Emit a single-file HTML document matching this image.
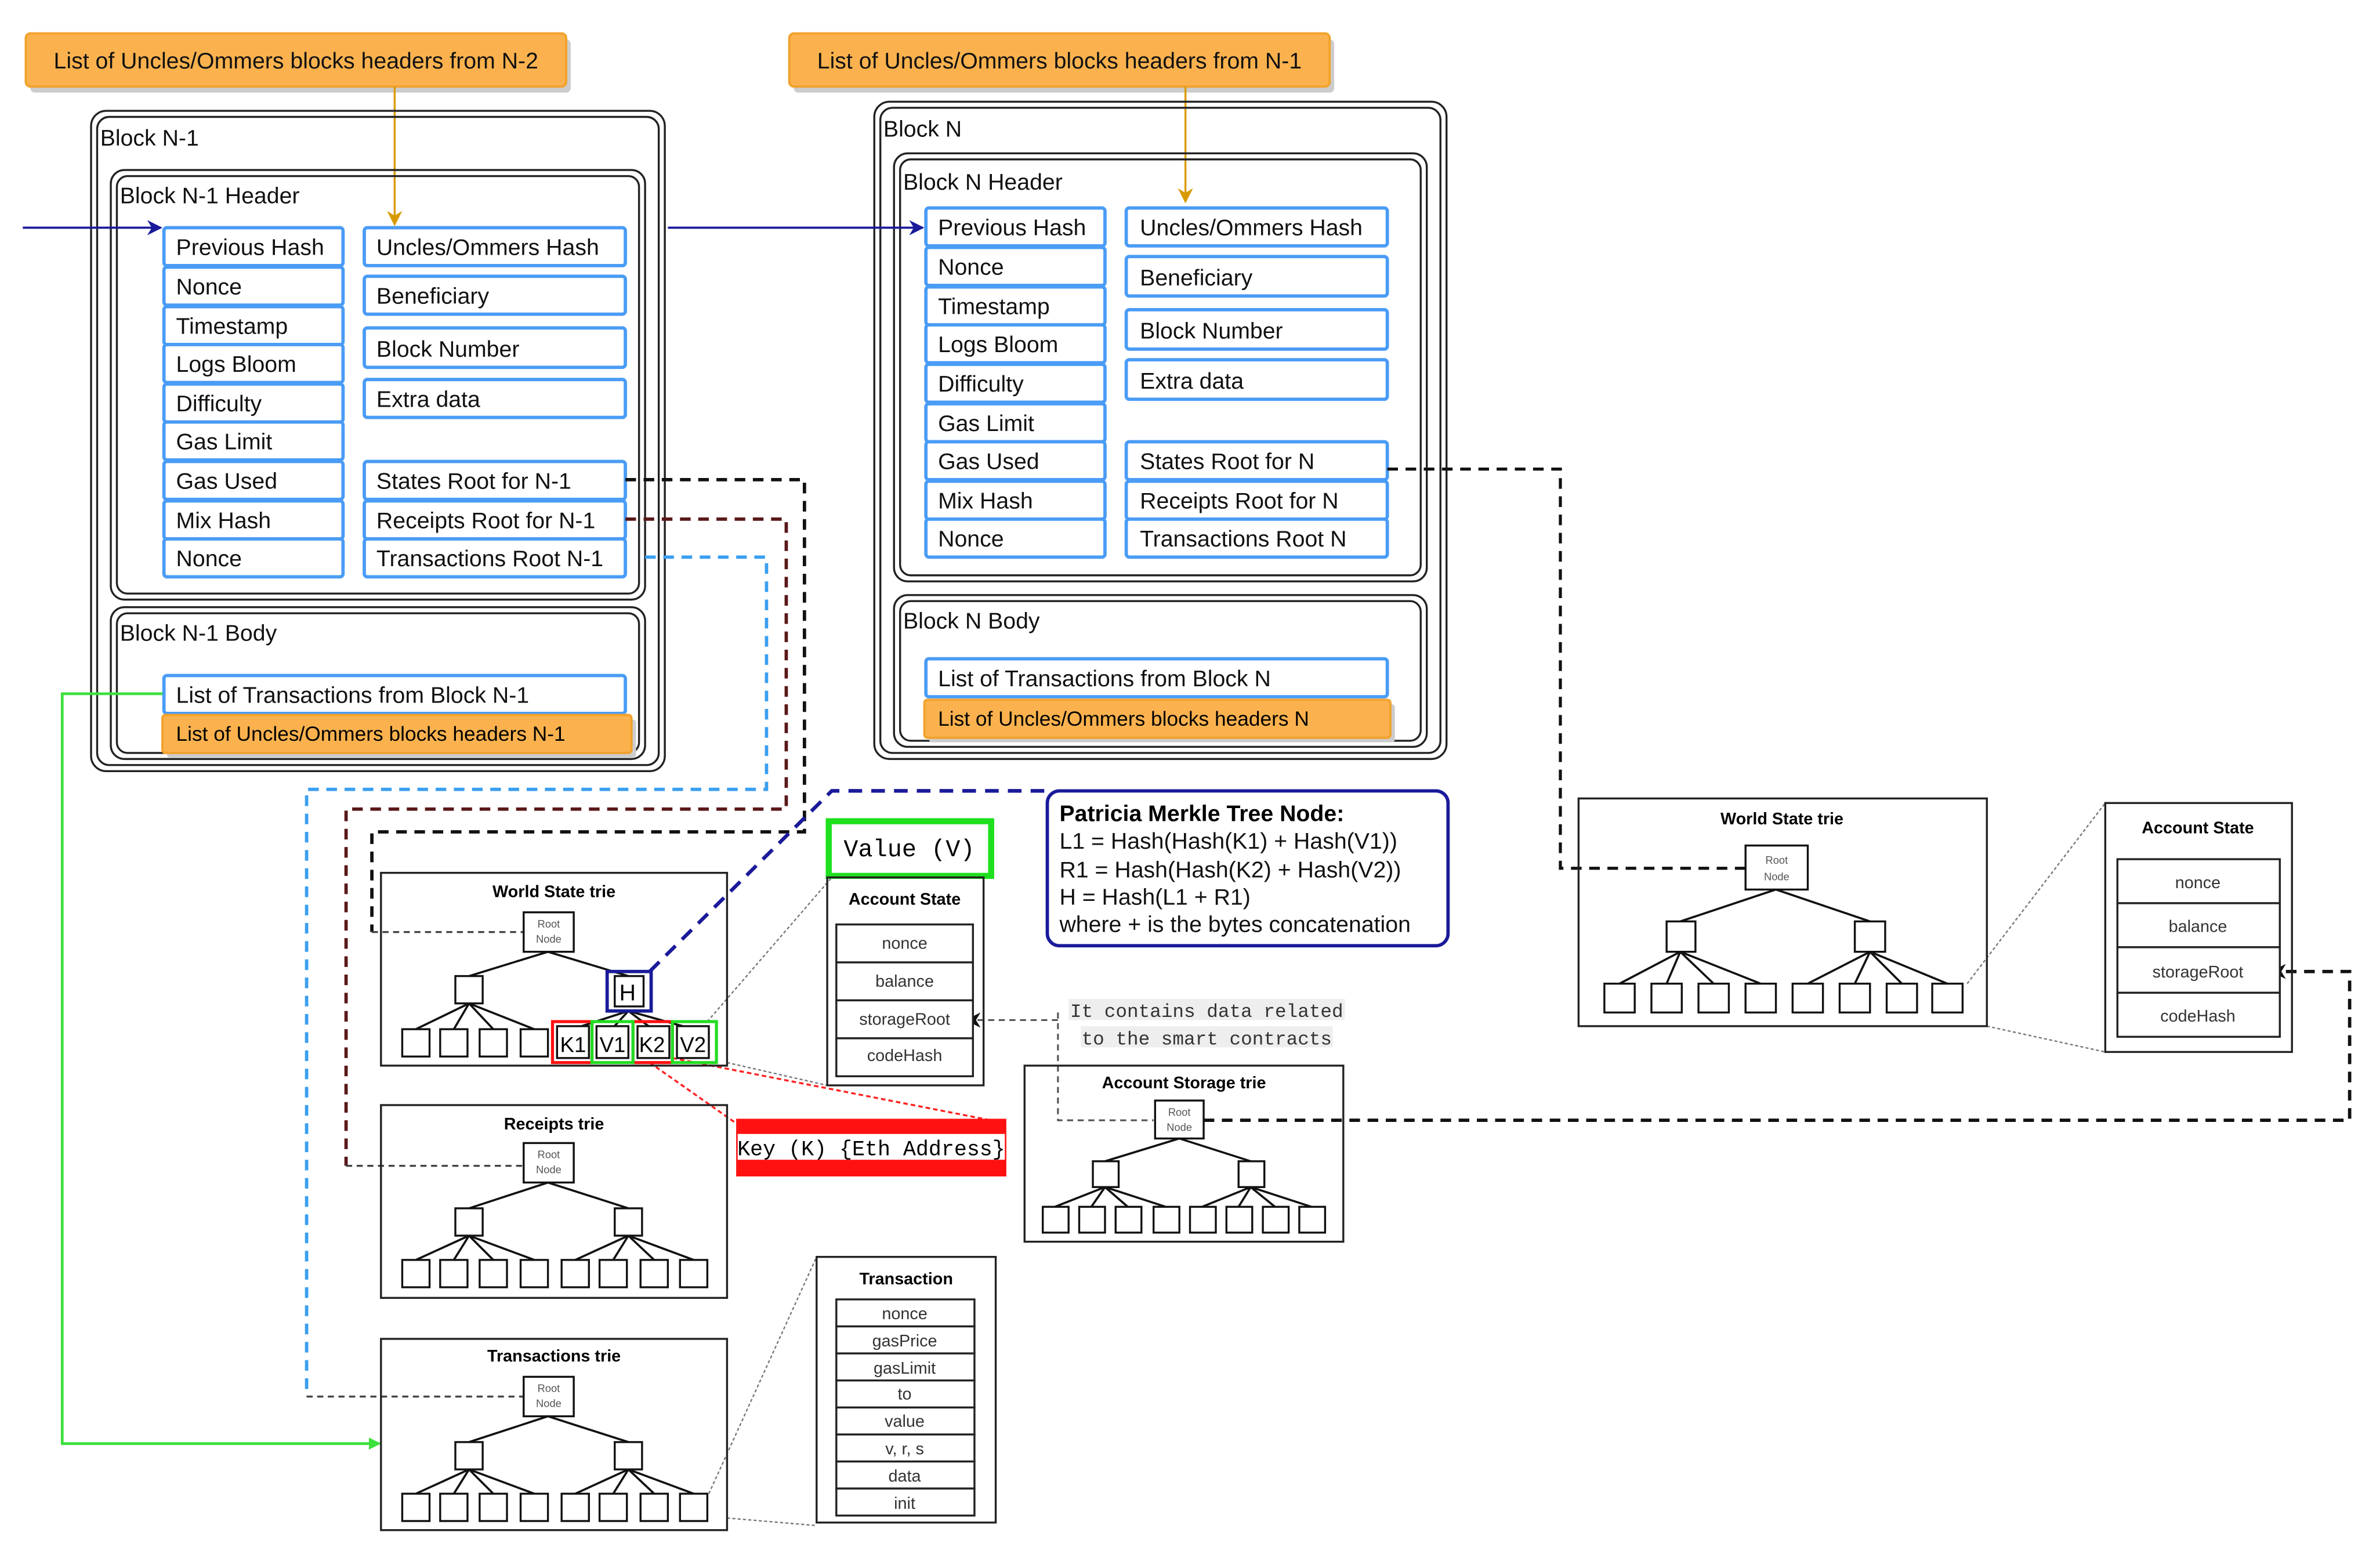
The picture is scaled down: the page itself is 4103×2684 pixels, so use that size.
<!DOCTYPE html>
<html><head><meta charset="utf-8"><style>
html,body{margin:0;padding:0;background:#fff;}
svg{display:block;}
text{font-family:"Liberation Sans",sans-serif;}
.f{fill:#fff;stroke:#4a9cf5;stroke-width:2.2;}
.t{font-size:15px;fill:#111;}
.o{fill:#fbb24e;stroke:#f2a22c;stroke-width:1.5;}
.b{fill:none;stroke:#222;stroke-width:1.3;}
.n{fill:#fff;stroke:#111;stroke-width:1.3;}
.l{stroke:#111;stroke-width:1.4;}
.tt{font-size:11px;font-weight:bold;text-anchor:middle;}
.rn{font-size:7px;fill:#555;text-anchor:middle;}
.af{fill:#fff;stroke:#222;stroke-width:1.3;}
.at{font-size:11px;fill:#333;text-anchor:middle;}
.m{font-family:"Liberation Mono",monospace;}
</style></head><body>
<svg width="4103" height="2684" viewBox="0 0 1568 1025.7" preserveAspectRatio="none" xmlns="http://www.w3.org/2000/svg">
<defs>
<marker id="ab" markerWidth="10" markerHeight="10" refX="9" refY="5" orient="auto" markerUnits="userSpaceOnUse"><path d="M0,0 L10,5 L0,10 L3,5z" fill="#1a1a9a"/></marker>
<marker id="ao" markerWidth="10" markerHeight="10" refX="9" refY="5" orient="auto" markerUnits="userSpaceOnUse"><path d="M0,0 L10,5 L0,10 L3,5z" fill="#d99a00"/></marker>
<marker id="ak" markerWidth="10" markerHeight="10" refX="9" refY="5" orient="auto" markerUnits="userSpaceOnUse"><path d="M0,0 L10,5 L0,10 L3,5z" fill="#111"/></marker>
<marker id="ag" markerWidth="8" markerHeight="8" refX="7" refY="4" orient="auto" markerUnits="userSpaceOnUse"><path d="M0,0 L8,4 L0,8z" fill="#3de03d"/></marker>
</defs>

<rect x="20" y="26" width="356" height="35" rx="3" fill="#ccc"/>
<rect x="17" y="22" width="356" height="35" rx="3" class="o"/>
<text x="195" y="45" class="t" text-anchor="middle">List of Uncles/Ommers blocks headers from N-2</text>
<rect x="523" y="26" width="356" height="35" rx="3" fill="#ccc"/>
<rect x="520" y="22" width="356" height="35" rx="3" class="o"/>
<text x="698" y="45" class="t" text-anchor="middle">List of Uncles/Ommers blocks headers from N-1</text>
<line x1="260" y1="57" x2="260" y2="148" stroke="#d99a00" stroke-width="1.3" marker-end="url(#ao)"/>
<line x1="781" y1="57" x2="781" y2="133" stroke="#d99a00" stroke-width="1.3" marker-end="url(#ao)"/>

<rect x="60" y="73" width="378" height="435" rx="10" class="b" stroke-width="1.6"/>
<rect x="64" y="77" width="370" height="427" rx="8" class="b" stroke-width="1.6"/>
<text x="66" y="96" class="t">Block N-1</text>
<rect x="73" y="112" width="352" height="283" rx="9" class="b" stroke-width="1.6"/>
<rect x="77" y="116" width="344" height="275" rx="7" class="b" stroke-width="1.6"/>
<text x="79" y="134" class="t">Block N-1 Header</text>
<g>
<rect x="108" y="150" width="118" height="25" rx="2" class="f"/><text x="116" y="168" class="t">Previous Hash</text>
<rect x="108" y="176" width="118" height="25" rx="2" class="f"/><text x="116" y="194" class="t">Nonce</text>
<rect x="108" y="202" width="118" height="25" rx="2" class="f"/><text x="116" y="220" class="t">Timestamp</text>
<rect x="108" y="227" width="118" height="25" rx="2" class="f"/><text x="116" y="245" class="t">Logs Bloom</text>
<rect x="108" y="253" width="118" height="25" rx="2" class="f"/><text x="116" y="271" class="t">Difficulty</text>
<rect x="108" y="278" width="118" height="25" rx="2" class="f"/><text x="116" y="296" class="t">Gas Limit</text>
<rect x="108" y="304" width="118" height="25" rx="2" class="f"/><text x="116" y="322" class="t">Gas Used</text>
<rect x="108" y="330" width="118" height="25" rx="2" class="f"/><text x="116" y="348" class="t">Mix Hash</text>
<rect x="108" y="355" width="118" height="25" rx="2" class="f"/><text x="116" y="373" class="t">Nonce</text>
<rect x="240" y="150" width="172" height="25" rx="2" class="f"/><text x="248" y="168" class="t">Uncles/Ommers Hash</text>
<rect x="240" y="182" width="172" height="25" rx="2" class="f"/><text x="248" y="200" class="t">Beneficiary</text>
<rect x="240" y="216" width="172" height="26" rx="2" class="f"/><text x="248" y="235" class="t">Block Number</text>
<rect x="240" y="250" width="172" height="25" rx="2" class="f"/><text x="248" y="268" class="t">Extra data</text>
<rect x="240" y="304" width="172" height="25" rx="2" class="f"/><text x="248" y="322" class="t">States Root for N-1</text>
<rect x="240" y="330" width="172" height="25" rx="2" class="f"/><text x="248" y="348" class="t">Receipts Root for N-1</text>
<rect x="240" y="355" width="172" height="25" rx="2" class="f"/><text x="248" y="373" class="t">Transactions Root N-1</text>
</g>
<rect x="73" y="400" width="352" height="100" rx="9" class="b" stroke-width="1.6"/>
<rect x="77" y="404" width="344" height="92" rx="7" class="b" stroke-width="1.6"/>
<text x="79" y="422" class="t">Block N-1 Body</text>
<rect x="108" y="445" width="304" height="25" rx="2" class="f"/><text x="116" y="463" class="t">List of Transactions from Block N-1</text>
<rect x="110" y="474" width="309" height="25" rx="2" fill="#ccc"/>
<rect x="107" y="471" width="309" height="25" rx="2" class="o"/><text x="116" y="488" font-size="13.5">List of Uncles/Ommers blocks headers N-1</text>

<rect x="576" y="67" width="377" height="433" rx="10" class="b" stroke-width="1.6"/>
<rect x="580" y="71" width="369" height="425" rx="8" class="b" stroke-width="1.6"/>
<text x="582" y="90" class="t">Block N</text>
<rect x="589" y="101" width="351" height="282" rx="9" class="b" stroke-width="1.6"/>
<rect x="593" y="105" width="343" height="274" rx="7" class="b" stroke-width="1.6"/>
<text x="595" y="125" class="t">Block N Header</text>
<g>
<rect x="610" y="137" width="118" height="25" rx="2" class="f"/><text x="618" y="155" class="t">Previous Hash</text>
<rect x="610" y="163" width="118" height="25" rx="2" class="f"/><text x="618" y="181" class="t">Nonce</text>
<rect x="610" y="189" width="118" height="25" rx="2" class="f"/><text x="618" y="207" class="t">Timestamp</text>
<rect x="610" y="214" width="118" height="25" rx="2" class="f"/><text x="618" y="232" class="t">Logs Bloom</text>
<rect x="610" y="240" width="118" height="25" rx="2" class="f"/><text x="618" y="258" class="t">Difficulty</text>
<rect x="610" y="266" width="118" height="25" rx="2" class="f"/><text x="618" y="284" class="t">Gas Limit</text>
<rect x="610" y="291" width="118" height="25" rx="2" class="f"/><text x="618" y="309" class="t">Gas Used</text>
<rect x="610" y="317" width="118" height="25" rx="2" class="f"/><text x="618" y="335" class="t">Mix Hash</text>
<rect x="610" y="342" width="118" height="25" rx="2" class="f"/><text x="618" y="360" class="t">Nonce</text>
<rect x="742" y="137" width="172" height="25" rx="2" class="f"/><text x="751" y="155" class="t">Uncles/Ommers Hash</text>
<rect x="742" y="169" width="172" height="26" rx="2" class="f"/><text x="751" y="188" class="t">Beneficiary</text>
<rect x="742" y="204" width="172" height="26" rx="2" class="f"/><text x="751" y="223" class="t">Block Number</text>
<rect x="742" y="237" width="172" height="26" rx="2" class="f"/><text x="751" y="256" class="t">Extra data</text>
<rect x="742" y="291" width="172" height="25" rx="2" class="f"/><text x="751" y="309" class="t">States Root for N</text>
<rect x="742" y="317" width="172" height="25" rx="2" class="f"/><text x="751" y="335" class="t">Receipts Root for N</text>
<rect x="742" y="342" width="172" height="25" rx="2" class="f"/><text x="751" y="360" class="t">Transactions Root  N</text>
</g>
<rect x="589" y="392" width="351" height="100" rx="9" class="b" stroke-width="1.6"/>
<rect x="593" y="396" width="343" height="92" rx="7" class="b" stroke-width="1.6"/>
<text x="595" y="414" class="t">Block N Body</text>
<rect x="610" y="434" width="304" height="25" rx="2" class="f"/><text x="618" y="452" class="t">List of Transactions from Block N</text>
<rect x="612" y="464" width="307" height="25" rx="2" fill="#ccc"/>
<rect x="609" y="461" width="307" height="25" rx="2" class="o"/><text x="618" y="478" font-size="13.5">List of Uncles/Ommers blocks headers N</text>

<line x1="15" y1="150" x2="106" y2="150" stroke="#1a1a9a" stroke-width="1.4" marker-end="url(#ab)"/>
<line x1="440" y1="150" x2="608" y2="150" stroke="#1a1a9a" stroke-width="1.4" marker-end="url(#ab)"/>

<path d="M412,316 H530 V548 H245 V614" fill="none" stroke="#111" stroke-width="2.2" stroke-dasharray="7,5"/>
<path d="M245,614 H345" fill="none" stroke="#444" stroke-width="1.3" stroke-dasharray="4,3"/>
<path d="M412,342 H518 V533 H228 V768" fill="none" stroke="#5a1818" stroke-width="2.2" stroke-dasharray="7,5"/>
<path d="M228,768 H345" fill="none" stroke="#444" stroke-width="1.3" stroke-dasharray="4,3"/>
<path d="M425,367 H505 V520 H202 V920" fill="none" stroke="#3a9ff0" stroke-width="2.2" stroke-dasharray="7,5"/>
<path d="M202,920 H345" fill="none" stroke="#444" stroke-width="1.3" stroke-dasharray="4,3"/>
<path d="M107,457 H41 V951 H250" fill="none" stroke="#3de03d" stroke-width="1.8" marker-end="url(#ag)"/>
<path d="M914,309 H1028 V572 H1150" fill="none" stroke="#111" stroke-width="2" stroke-dasharray="7,5"/>
<path d="M793,738 H1548 V640 H1497" fill="none" stroke="#111" stroke-width="2.2" stroke-dasharray="7,5" marker-end="url(#ak)"/>
<path d="M697,667 V738 H760" fill="none" stroke="#555" stroke-width="1.2" stroke-dasharray="4,3"/>
<path d="M697,672 H637" fill="none" stroke="#555" stroke-width="1.2" stroke-dasharray="4,3" marker-end="url(#ak)"/>
<path d="M428,640 L548,521 H690" fill="none" stroke="#1a1a9a" stroke-width="2.4" stroke-dasharray="9,6"/>
<g stroke="#777" stroke-width="0.9" stroke-dasharray="2,1.5" fill="none">
<path d="M466,673 L548,578"/><path d="M479,700 L545,715"/>
<path d="M1296,648 L1387,529"/><path d="M1309,676 L1387,693"/>
<path d="M467,984 L538,828"/><path d="M479,1000 L538,1005"/>
</g>
<g stroke="#f22" stroke-width="1.3" stroke-dasharray="3,2" fill="none">
<path d="M428,700 L485,740"/><path d="M443,697 L663,740"/>
</g>

<rect x="251" y="575" width="228" height="127" class="b" stroke-width="1.6"/>
<text x="365" y="591" class="tt">World State trie</text>
<rect x="345" y="601" width="33" height="26" class="n"/><text x="361.5" y="611" class="rn">Root</text><text x="361.5" y="621" class="rn">Node</text>
<g class="l"><line x1="361" y1="627" x2="309" y2="643"/><line x1="361" y1="627" x2="414" y2="643"/>
<line x1="309" y1="661" x2="274" y2="678"/><line x1="309" y1="661" x2="299" y2="678"/><line x1="309" y1="661" x2="325" y2="678"/><line x1="309" y1="661" x2="352" y2="678"/>
<line x1="414" y1="666" x2="377" y2="678"/><line x1="414" y1="666" x2="403" y2="678"/><line x1="414" y1="666" x2="430" y2="678"/><line x1="414" y1="666" x2="457" y2="678"/></g>
<rect x="300" y="643" width="18" height="18" class="n"/>
<rect x="265" y="678" width="18" height="18" class="n"/><rect x="290" y="678" width="18" height="18" class="n"/><rect x="316" y="678" width="18" height="18" class="n"/><rect x="343" y="678" width="18" height="18" class="n"/>
<rect x="367" y="676" width="21" height="21" class="n"/><rect x="393" y="676" width="21" height="21" class="n"/><rect x="420" y="676" width="21" height="21" class="n"/><rect x="446" y="676" width="21" height="21" class="n"/>
<rect x="364" y="673" width="26" height="27" fill="none" stroke="#f11" stroke-width="2"/>
<rect x="417" y="673" width="26" height="27" fill="none" stroke="#f11" stroke-width="2"/>
<rect x="390" y="673" width="27" height="27" fill="none" stroke="#2d2" stroke-width="2"/>
<rect x="443" y="673" width="29" height="27" fill="none" stroke="#2d2" stroke-width="2"/>
<text x="369" y="693" font-size="14">K1</text><text x="395" y="693" font-size="14">V1</text><text x="421" y="693" font-size="14">K2</text><text x="448" y="693" font-size="14">V2</text>
<rect x="405" y="643" width="19" height="20" class="n"/>
<rect x="400" y="640" width="29" height="26" fill="none" stroke="#1a1a9a" stroke-width="2.2"/>
<text x="408" y="659" font-size="15">H</text>

<rect x="546" y="541" width="107" height="36" fill="#fff" stroke="#1ee01e" stroke-width="4"/>
<text x="599" y="564" class="m" font-size="16" text-anchor="middle">Value (V)</text>
<rect x="485" y="737" width="178" height="38" fill="#f11"/>
<rect x="486" y="747" width="176" height="17" fill="#fff"/>
<text x="574" y="761" class="m" font-size="14" text-anchor="middle">Key (K) {Eth Address}</text>

<rect x="545" y="578" width="103" height="137" class="b"/>
<text x="596" y="596" class="tt">Account State</text>
<rect x="551" y="609" width="90" height="25" class="af"/><text x="596" y="625" class="at">nonce</text>
<rect x="551" y="634" width="90" height="25" class="af"/><text x="596" y="650" class="at">balance</text>
<rect x="551" y="659" width="90" height="25" class="af"/><text x="596" y="675" class="at">storageRoot</text>
<rect x="551" y="684" width="90" height="25" class="af"/><text x="596" y="699" class="at">codeHash</text>

<rect x="690" y="521" width="264" height="102" rx="8" fill="#fff" stroke="#1a1a9a" stroke-width="2.2"/>
<text x="698" y="541" font-size="15" font-weight="bold">Patricia Merkle Tree Node:</text>
<text x="698" y="559" class="t">L1 = Hash(Hash(K1) + Hash(V1))</text>
<text x="698" y="578" class="t">R1 = Hash(Hash(K2) + Hash(V2))</text>
<text x="698" y="596" class="t">H = Hash(L1 + R1)</text>
<text x="698" y="614" class="t">where + is the bytes concatenation</text>

<rect x="704" y="658" width="182" height="14" fill="#eee"/><rect x="712" y="676" width="166" height="14" fill="#eee"/>
<text x="795" y="670" class="m" font-size="12.5" text-anchor="middle" fill="#333">It contains data related</text>
<text x="795" y="688" class="m" font-size="12.5" text-anchor="middle" fill="#333">to the smart contracts</text>

<rect x="251" y="728" width="228" height="127" class="b" stroke-width="1.6"/>
<text x="365" y="744" class="tt">Receipts trie</text>
<rect x="345" y="753" width="33" height="26" class="n"/><text x="361.5" y="763" class="rn">Root</text><text x="361.5" y="773" class="rn">Node</text>
<g class="l"><line x1="361" y1="779" x2="309" y2="796"/><line x1="361" y1="779" x2="414" y2="796"/>
<line x1="309" y1="814" x2="274" y2="830"/><line x1="309" y1="814" x2="299" y2="830"/><line x1="309" y1="814" x2="325" y2="830"/><line x1="309" y1="814" x2="352" y2="830"/>
<line x1="414" y1="814" x2="379" y2="830"/><line x1="414" y1="814" x2="404" y2="830"/><line x1="414" y1="814" x2="431" y2="830"/><line x1="414" y1="814" x2="457" y2="830"/></g>
<rect x="300" y="796" width="18" height="18" class="n"/><rect x="405" y="796" width="18" height="18" class="n"/>
<g><rect x="265" y="830" width="18" height="18" class="n"/><rect x="290" y="830" width="18" height="18" class="n"/><rect x="316" y="830" width="18" height="18" class="n"/><rect x="343" y="830" width="18" height="18" class="n"/><rect x="370" y="830" width="18" height="18" class="n"/><rect x="395" y="830" width="18" height="18" class="n"/><rect x="422" y="830" width="18" height="18" class="n"/><rect x="448" y="830" width="18" height="18" class="n"/></g>

<rect x="251" y="882" width="228" height="126" class="b" stroke-width="1.6"/>
<text x="365" y="897" class="tt">Transactions trie</text>
<rect x="345" y="907" width="33" height="26" class="n"/><text x="361.5" y="917" class="rn">Root</text><text x="361.5" y="927" class="rn">Node</text>
<g class="l"><line x1="361" y1="933" x2="309" y2="950"/><line x1="361" y1="933" x2="414" y2="950"/>
<line x1="309" y1="968" x2="274" y2="984"/><line x1="309" y1="968" x2="299" y2="984"/><line x1="309" y1="968" x2="325" y2="984"/><line x1="309" y1="968" x2="352" y2="984"/>
<line x1="414" y1="968" x2="379" y2="984"/><line x1="414" y1="968" x2="404" y2="984"/><line x1="414" y1="968" x2="431" y2="984"/><line x1="414" y1="968" x2="457" y2="984"/></g>
<rect x="300" y="950" width="18" height="18" class="n"/><rect x="405" y="950" width="18" height="18" class="n"/>
<g><rect x="265" y="984" width="18" height="18" class="n"/><rect x="290" y="984" width="18" height="18" class="n"/><rect x="316" y="984" width="18" height="18" class="n"/><rect x="343" y="984" width="18" height="18" class="n"/><rect x="370" y="984" width="18" height="18" class="n"/><rect x="395" y="984" width="18" height="18" class="n"/><rect x="422" y="984" width="18" height="18" class="n"/><rect x="448" y="984" width="18" height="18" class="n"/></g>

<rect x="538" y="828" width="118" height="175" class="b"/>
<text x="597" y="846" class="tt">Transaction</text>
<g>
<rect x="551" y="856" width="91" height="17.8" class="af"/><text x="596" y="869" class="at">nonce</text>
<rect x="551" y="873.8" width="91" height="17.8" class="af"/><text x="596" y="887" class="at">gasPrice</text>
<rect x="551" y="891.6" width="91" height="17.8" class="af"/><text x="596" y="905" class="at">gasLimit</text>
<rect x="551" y="909.4" width="91" height="17.8" class="af"/><text x="596" y="922" class="at">to</text>
<rect x="551" y="927.2" width="91" height="17.8" class="af"/><text x="596" y="940" class="at">value</text>
<rect x="551" y="945" width="91" height="17.8" class="af"/><text x="596" y="958" class="at">v, r, s</text>
<rect x="551" y="962.8" width="91" height="17.8" class="af"/><text x="596" y="976" class="at">data</text>
<rect x="551" y="980.6" width="91" height="17.8" class="af"/><text x="596" y="994" class="at">init</text>
</g>

<rect x="675" y="702" width="210" height="116" class="b" stroke-width="1.4"/>
<text x="780" y="717" class="tt">Account Storage trie</text>
<rect x="761" y="725" width="32" height="25" class="n"/><text x="777" y="735" class="rn">Root</text><text x="777" y="745" class="rn">Node</text>
<g class="l"><line x1="777" y1="750" x2="728" y2="765"/><line x1="777" y1="750" x2="824" y2="765"/>
<line x1="728" y1="782" x2="695" y2="795"/><line x1="728" y1="782" x2="719" y2="795"/><line x1="728" y1="782" x2="743" y2="795"/><line x1="728" y1="782" x2="768" y2="795"/>
<line x1="824" y1="782" x2="792" y2="795"/><line x1="824" y1="782" x2="816" y2="795"/><line x1="824" y1="782" x2="840" y2="795"/><line x1="824" y1="782" x2="864" y2="795"/></g>
<rect x="720" y="765" width="17" height="17" class="n"/><rect x="816" y="765" width="17" height="17" class="n"/>
<g><rect x="687" y="795" width="17" height="17" class="n"/><rect x="711" y="795" width="17" height="17" class="n"/><rect x="735" y="795" width="17" height="17" class="n"/><rect x="760" y="795" width="17" height="17" class="n"/><rect x="784" y="795" width="17" height="17" class="n"/><rect x="808" y="795" width="17" height="17" class="n"/><rect x="832" y="795" width="17" height="17" class="n"/><rect x="856" y="795" width="17" height="17" class="n"/></g>

<rect x="1040" y="526" width="269" height="150" class="b" stroke-width="1.4"/>
<text x="1174" y="543" class="tt" font-size="12">World State trie</text>
<rect x="1150" y="557" width="41" height="29" class="n"/><text x="1170.5" y="569" class="rn" font-size="8">Root</text><text x="1170.5" y="580" class="rn" font-size="8">Node</text>
<g class="l"><line x1="1170" y1="586" x2="1107" y2="607"/><line x1="1170" y1="586" x2="1232" y2="607"/>
<line x1="1107" y1="627" x2="1067" y2="648"/><line x1="1107" y1="627" x2="1098" y2="648"/><line x1="1107" y1="627" x2="1129" y2="648"/><line x1="1107" y1="627" x2="1160" y2="648"/>
<line x1="1232" y1="627" x2="1191" y2="648"/><line x1="1232" y1="627" x2="1222" y2="648"/><line x1="1232" y1="627" x2="1253" y2="648"/><line x1="1232" y1="627" x2="1283" y2="648"/></g>
<rect x="1098" y="607" width="19" height="20" class="n"/><rect x="1222" y="607" width="20" height="20" class="n"/>
<g><rect x="1057" y="648" width="20" height="19" class="n"/><rect x="1088" y="648" width="20" height="19" class="n"/><rect x="1119" y="648" width="20" height="19" class="n"/><rect x="1150" y="648" width="20" height="19" class="n"/><rect x="1181" y="648" width="20" height="19" class="n"/><rect x="1212" y="648" width="20" height="19" class="n"/><rect x="1243" y="648" width="20" height="19" class="n"/><rect x="1273" y="648" width="20" height="19" class="n"/></g>

<rect x="1387" y="529" width="123" height="164" class="b" stroke-width="1.4"/>
<text x="1448" y="549" class="tt" font-size="12.5">Account State</text>
<rect x="1395" y="566" width="107" height="29" class="af"/><text x="1448" y="585" class="at" font-size="12.5">nonce</text>
<rect x="1395" y="595" width="107" height="29" class="af"/><text x="1448" y="614" class="at" font-size="12.5">balance</text>
<rect x="1395" y="624" width="107" height="30" class="af"/><text x="1448" y="644" class="at" font-size="12.5">storageRoot</text>
<rect x="1395" y="654" width="107" height="29" class="af"/><text x="1448" y="673" class="at" font-size="12.5">codeHash</text>
</svg>
</body></html>
